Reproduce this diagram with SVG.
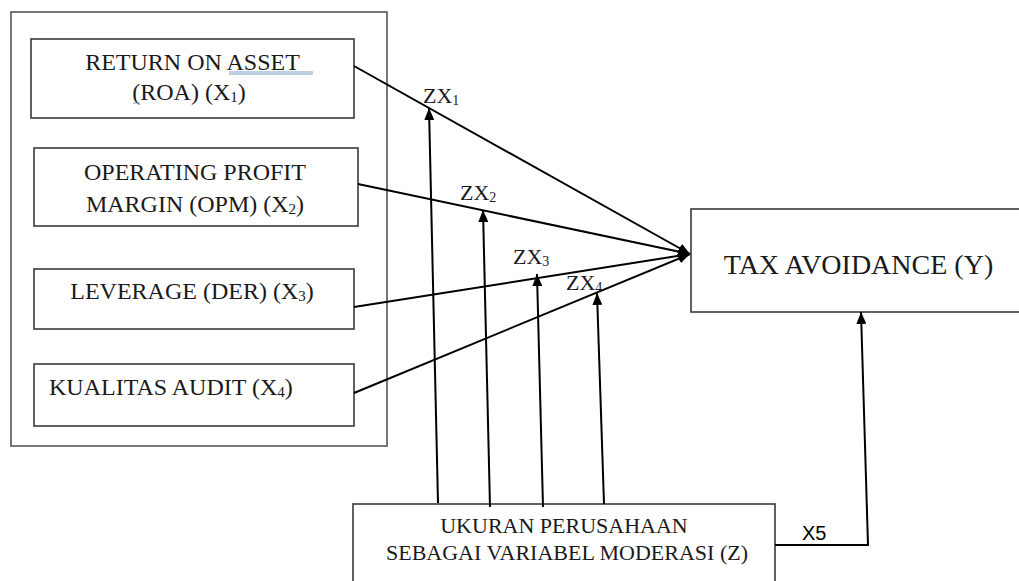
<svg xmlns="http://www.w3.org/2000/svg" width="1019" height="581" viewBox="0 0 1019 581">
<style>
.box{fill:#fff;stroke:#3a3a3a;stroke-width:1.6}
.outer{fill:none;stroke:#555;stroke-width:1.6}
.t{font-family:"Liberation Serif","Times New Roman",serif;font-size:24px;fill:#1a1a1a}
.tz{font-family:"Liberation Serif","Times New Roman",serif;font-size:22px;fill:#1a1a1a}
.tl{font-family:"Liberation Serif","Times New Roman",serif;font-size:22px;fill:#1a1a1a}
.tx{font-family:"Liberation Serif","Times New Roman",serif;font-size:28px;fill:#1a1a1a}
.ts{font-family:"Liberation Sans",Arial,sans-serif;font-size:20px;fill:#000}
.c{fill:none;stroke:#000;stroke-width:2}
.ul{stroke:#7f9cc4;stroke-width:1}
</style>
<defs>
<marker id="ah" viewBox="0 0 12 10" refX="12" refY="5" markerWidth="12" markerHeight="10" markerUnits="userSpaceOnUse" orient="auto">
<path d="M0,0 L12,5 L0,10 Z" fill="#000"/>
</marker>
</defs>
<rect class="outer" x="11" y="12" width="376" height="434"/>
<g id="node-roa">
<rect class="box" x="31" y="39" width="323" height="79"/>
<text class="t" x="192.5" y="70" text-anchor="middle">RETURN ON ASSET</text>
<text class="t" x="189" y="100" text-anchor="middle">(ROA) (X<tspan font-size="15" dy="2">1</tspan><tspan dy="-2">)</tspan></text>
<line class="ul" x1="229" y1="72" x2="313" y2="72"/>
<line class="ul" x1="229" y1="74" x2="313" y2="74"/>
<line class="ul" x1="133" y1="103" x2="140" y2="103"/>
</g>
<g id="node-opm">
<rect class="box" x="34" y="148" width="324" height="78"/>
<text class="t" x="195" y="180" text-anchor="middle">OPERATING PROFIT</text>
<text class="t" x="195" y="212" text-anchor="middle">MARGIN (OPM) (X<tspan font-size="15" dy="2">2</tspan><tspan dy="-2">)</tspan></text>
</g>
<g id="node-der">
<rect class="box" x="34" y="269" width="320" height="60"/>
<text class="t" x="192" y="299" text-anchor="middle">LEVERAGE (DER) (X<tspan font-size="15" dy="2">3</tspan><tspan dy="-2">)</tspan></text>
</g>
<g id="node-audit">
<rect class="box" x="34" y="364" width="320" height="62"/>
<text class="t" x="49" y="395">KUALITAS AUDIT (X<tspan font-size="15" dy="2">4</tspan><tspan dy="-2">)</tspan></text>
</g>
<g id="node-tax">
<rect class="box" x="691" y="209" width="340" height="103"/>
<text class="tx" x="858.5" y="274" text-anchor="middle">TAX AVOIDANCE (Y)</text>
</g>
<g id="node-z">
<rect class="box" x="353" y="504" width="422" height="90"/>
<text class="tz" x="564" y="533" text-anchor="middle">UKURAN PERUSAHAAN</text>
<text class="tz" x="567" y="560" text-anchor="middle">SEBAGAI VARIABEL MODERASI (Z)</text>
</g>
<g id="connectors">
<line class="c" x1="354" y1="66" x2="690" y2="254" marker-end="url(#ah)"/>
<line class="c" x1="358" y1="184" x2="690" y2="254" marker-end="url(#ah)"/>
<line class="c" x1="354" y1="307" x2="690" y2="254" marker-end="url(#ah)"/>
<line class="c" x1="354" y1="393" x2="690" y2="254" marker-end="url(#ah)"/>
<line class="c" x1="438" y1="503" x2="429" y2="108" marker-end="url(#ah)"/>
<line class="c" x1="490" y1="507" x2="483" y2="210" marker-end="url(#ah)"/>
<line class="c" x1="543" y1="507" x2="537" y2="274" marker-end="url(#ah)"/>
<line class="c" x1="604" y1="504" x2="597" y2="293" marker-end="url(#ah)"/>
<polyline class="c" points="775,545 868,545 861,312" marker-end="url(#ah)"/>
<text class="tl" x="423" y="103">ZX<tspan font-size="14" dy="2">1</tspan></text>
<text class="tl" x="460" y="200">ZX<tspan font-size="14" dy="2">2</tspan></text>
<text class="tl" x="513" y="264">ZX<tspan font-size="14" dy="2">3</tspan></text>
<text class="tl" x="566" y="290">ZX<tspan font-size="14" dy="2">4</tspan></text>
<text class="ts" x="802" y="540">X5</text>
</g>
</svg>
